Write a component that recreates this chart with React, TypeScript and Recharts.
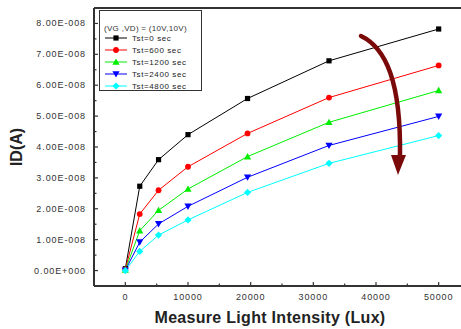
import React from 'react'
import { LineChart, Line, XAxis, YAxis, ReferenceLine } from 'recharts'

// light intensity (Lux)
const lux = [0, 2300, 5300, 10000, 19500, 32500, 50000]

// drain current, in units of 1e-8 A
const tst0 = [0.06, 2.73, 3.59, 4.4, 5.57, 6.79, 7.82]
const tst600 = [0.04, 1.83, 2.6, 3.36, 4.44, 5.6, 6.64]
const tst1200 = [0.02, 1.29, 1.95, 2.64, 3.69, 4.8, 5.83]
const tst2400 = [0.01, 0.92, 1.51, 2.08, 3.02, 4.05, 4.99]
const tst4800 = [0, 0.62, 1.15, 1.64, 2.53, 3.47, 4.37]

const seriesNames = ['Tst=0 sec', 'Tst=600 sec', 'Tst=1200 sec', 'Tst=2400 sec', 'Tst=4800 sec']
const seriesColors = ['#000000', '#ff0000', '#00ee00', '#0000ff', '#00ffff']
const seriesShapes = ['square', 'circle', 'triangle', 'triangleDown', 'diamond']
const legendTitle = '(VG ,VD) = (10V,10V)'

const xMajor = [0, 10000, 20000, 30000, 40000, 50000]
const xMinor = [5000, 15000, 25000, 35000, 45000]
const yMajor = [0, 1e-8, 2e-8, 3e-8, 4e-8, 5e-8, 6e-8, 7e-8, 8e-8]
const yMinor = [0.5e-8, 1.5e-8, 2.5e-8, 3.5e-8, 4.5e-8, 5.5e-8, 6.5e-8, 7.5e-8]

const all = [tst0, tst600, tst1200, tst2400, tst4800]
const data = lux.map((x, i) => {
  const row: Record<string, number> = { x }
  all.forEach((s, k) => {
    row['s' + k] = s[i] * 1e-8
  })
  return row
})

const FONT = 'Arial, "Liberation Sans", sans-serif'
const AXIS = '#333'

function Marker({ cx, cy, shape, color }: { cx: number; cy: number; shape: string; color: string }) {
  if (cx == null || cy == null) return null
  if (shape === 'square') return <rect x={cx - 2.6} y={cy - 2.6} width={5.2} height={5.2} fill={color} />
  if (shape === 'circle') return <circle cx={cx} cy={cy} r={2.9} fill={color} />
  if (shape === 'triangle')
    return <polygon points={`${cx},${cy - 3.6} ${cx + 3.6},${cy + 2.8} ${cx - 3.6},${cy + 2.8}`} fill={color} />
  if (shape === 'triangleDown')
    return <polygon points={`${cx},${cy + 3.6} ${cx + 3.6},${cy - 2.8} ${cx - 3.6},${cy - 2.8}`} fill={color} />
  return <polygon points={`${cx},${cy - 3.6} ${cx + 3.6},${cy} ${cx},${cy + 3.6} ${cx - 3.6},${cy}`} fill={color} />
}

const fmtY = (v: number) => {
  if (Math.abs(v) < 1e-12) return '0.00E+000'
  return (v / 1e-8).toFixed(2) + 'E-008'
}

function YTick(props: any) {
  const { x, y, payload } = props
  const major = Math.round(payload.value / 0.5e-8) % 2 === 0
  return (
    <g>
      <line x1={x} x2={x + (major ? 4 : 2.5)} y1={y} y2={y} stroke={AXIS} strokeWidth={1.2} />
      {major && (
        <text x={x - 8} y={y} dy={3} textAnchor="end" fontSize={9} letterSpacing={0.9} fill="#333" fontFamily={FONT}>
          {fmtY(payload.value)}
        </text>
      )}
    </g>
  )
}

function XTick(props: any) {
  const { x, y, payload } = props
  const major = payload.value % 10000 === 0
  return (
    <g>
      <line x1={x} x2={x} y1={y} y2={y - (major ? 4 : 2.5)} stroke={AXIS} strokeWidth={1.2} />
      {major && (
        <text x={x} y={y + 14} textAnchor="middle" fontSize={9} letterSpacing={0.9} fill="#333" fontFamily={FONT}>
          {payload.value}
        </text>
      )}
    </g>
  )
}

function LegendBox() {
  return (
    <div
      style={{
        position: 'absolute',
        left: 99,
        top: 10,
        width: 101,
        height: 79,
        border: '1.5px solid #333',
        background: '#fff',
        fontFamily: FONT,
      }}
    >
      <svg width={101} height={79}>
        <text x={4} y={20} fontSize={8} letterSpacing={0.3} fill="#333" fontFamily={FONT}>
          {legendTitle}
        </text>
        {seriesNames.map((n, i) => {
          const y = 27 + i * 12
          return (
            <g key={n}>
              <line x1={5} x2={27} y1={y} y2={y} stroke={seriesColors[i]} strokeWidth={1} />
              <Marker cx={16} cy={y} shape={seriesShapes[i]} color={seriesColors[i]} />
              <text x={32} y={y + 3} fontSize={8} letterSpacing={0.6} fill="#222" fontFamily={FONT}>
                {n}
              </text>
            </g>
          )
        })}
      </svg>
    </div>
  )
}

export default function App() {
  return (
    <div style={{ position: 'absolute', left: 0, top: 0, width: 461, height: 329, overflow: 'hidden', background: '#fff' }}>
      <LineChart width={480} height={329} data={data} margin={{ top: 8, right: 10, bottom: 0, left: 0 }}>
        <XAxis
          dataKey="x"
          type="number"
          domain={[-5000, 55000]}
          ticks={[...xMajor, ...xMinor].sort((a, b) => a - b)}
          interval={0}
          height={43}
          tickSize={0}
          tickMargin={0}
          tickLine={false}
          axisLine={{ stroke: AXIS, strokeWidth: 2 }}
          tick={<XTick />}
          allowDataOverflow
        />
        <YAxis
          type="number"
          domain={[-0.5e-8, 8.5e-8]}
          ticks={[...yMajor, ...yMinor].sort((a, b) => a - b)}
          interval={0}
          width={94}
          tickSize={0}
          tickMargin={0}
          tickLine={false}
          axisLine={{ stroke: AXIS, strokeWidth: 2 }}
          tick={<YTick />}
          allowDataOverflow
        />
        <ReferenceLine y={8.5e-8} stroke={AXIS} strokeWidth={2} ifOverflow="visible" />
        <ReferenceLine x={55000} stroke={AXIS} strokeWidth={2} ifOverflow="visible" />
        {seriesNames.map((n, k) => (
          <Line
            key={n}
            dataKey={'s' + k}
            name={n}
            type="linear"
            stroke={seriesColors[k]}
            strokeWidth={1}
            isAnimationActive={false}
            dot={(p: any) => (
              <Marker key={'d' + k + '-' + p.index} cx={p.cx} cy={p.cy} shape={seriesShapes[k]} color={seriesColors[k]} />
            )}
            activeDot={false}
          />
        ))}
      </LineChart>
      <LegendBox />
      <svg width={461} height={329} style={{ position: 'absolute', left: 0, top: 0, pointerEvents: 'none' }}>
        <path d="M361 36 C 386 48, 401 82, 400 156" fill="none" stroke="#7a0a0a" strokeWidth={4.5} strokeLinecap="round" />
        <polygon points="391,155 406,155 398,175" fill="#7a0a0a" />
        <text
          x={270}
          y={323}
          textAnchor="middle"
          fontSize={16}
          fontWeight="bold"
          letterSpacing={0.3}
          fill="#222"
          fontFamily={FONT}
        >
          Measure Light Intensity (Lux)
        </text>
        <text
          x={22}
          y={147}
          transform="rotate(-90 22 147)"
          textAnchor="middle"
          fontSize={16}
          fontWeight="bold"
          fill="#222"
          fontFamily={FONT}
        >
          ID(A)
        </text>
      </svg>
    </div>
  )
}
